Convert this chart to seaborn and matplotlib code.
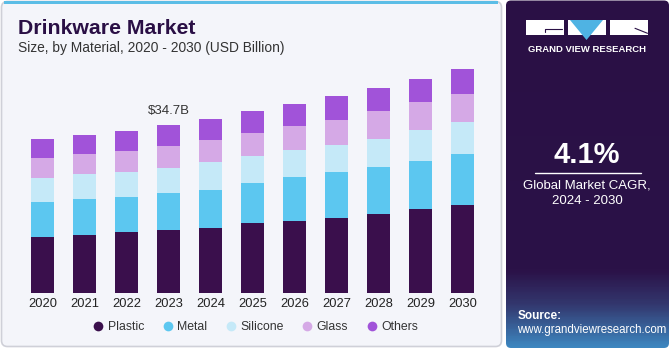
import numpy as np
import pandas as pd
import matplotlib
matplotlib.use("Agg")
import matplotlib.pyplot as plt
from matplotlib.patches import FancyBboxPatch, Rectangle, Polygon
import seaborn as sns

years = ["2020", "2021", "2022", "2023", "2024", "2025", "2026", "2027", "2028", "2029", "2030"]
plastic = [11.56, 11.81, 12.49, 12.99, 13.42, 14.34, 14.87, 15.43, 16.26, 17.30, 18.06]
metal = [7.25, 7.56, 7.29, 7.56, 7.81, 8.29, 9.05, 9.47, 9.74, 9.94, 10.63]
silicone = [4.97, 5.12, 5.24, 5.18, 5.80, 5.66, 5.59, 5.66, 5.86, 6.42, 6.57]
glass = [4.14, 4.27, 4.29, 4.68, 4.56, 4.83, 4.91, 5.18, 5.74, 5.80, 5.80]
others = [3.81, 3.87, 4.08, 4.29, 4.35, 4.56, 4.68, 4.97, 4.76, 4.76, 5.18]
series_names = ["Plastic", "Metal", "Silicone", "Glass", "Others"]
colors = ["#3a0f4c", "#5cc7f0", "#c5e9f8", "#d5a9e6", "#a153d9"]
annot_year = "2023"
annot_text = "$34.7B"

sns.set_theme(style="white")
plt.rcParams["font.family"] = ["Liberation Sans", "DejaVu Sans"]

W, H = 671, 350
fig = plt.figure(figsize=(W / 100, H / 100), dpi=100)
fig.patch.set_facecolor("white")

# background decoration axes in pixel coordinates
bg = fig.add_axes([0, 0, 1, 1])
bg.set_xlim(0, W)
bg.set_ylim(H, 0)
bg.axis("off")
bg.add_patch(FancyBboxPatch((1.5, 1.5), 500, 345, boxstyle="round,pad=0,rounding_size=6",
                            facecolor="#f4f5fa", edgecolor="#cfd0d8", linewidth=1.2))
bg.add_patch(Rectangle((4, 0.5), 494, 3, facecolor="#5bbde6", edgecolor="none"))

# right panel with gradient
grad = np.linspace(0, 1, 200)
cmap = matplotlib.colors.LinearSegmentedColormap.from_list(
    "p", [(0, "#2a1045"), (0.78, "#2b1248"), (0.88, "#33386f"), (1.0, "#3d86bf")])
img = cmap(grad)[:, None, :]
im = bg.imshow(img, extent=(506, 669, 348, 0), aspect="auto", zorder=1)
clip = FancyBboxPatch((506, 0.5), 163, 347.5, boxstyle="round,pad=0,rounding_size=5",
                      facecolor="none", edgecolor="none", transform=bg.transData)
bg.add_patch(clip)
im.set_clip_path(clip)
bg.set_xlim(0, W)
bg.set_ylim(H, 0)

# logo
bg.add_patch(Rectangle((526, 20), 38, 15, facecolor="white", edgecolor="none", zorder=3))
bg.add_patch(Rectangle((568, 20), 38, 15, facecolor="white", edgecolor="none", zorder=3))
bg.add_patch(Polygon([(570, 20), (603, 20), (586.5, 40)], closed=True, facecolor="#4fb3e3",
                     edgecolor="none", zorder=4))
bg.add_patch(Rectangle((610, 20), 38, 15, facecolor="white", edgecolor="none", zorder=3))
bg.plot([545, 545, 562], [32.3, 29, 29], color="#2a1045", lw=0.8, zorder=5)
bg.plot([635, 647.5], [28.3, 33.3], color="#2a1045", lw=0.8, zorder=5)
bg.text(587, 49.5, "GRAND VIEW RESEARCH", color="white", fontsize=6.8, fontweight="bold",
        ha="center", va="center", zorder=5)

bg.text(587, 155, "4.1%", color="white", fontsize=21, fontweight="bold",
        ha="center", va="center", zorder=5)
bg.plot([535, 641], [173, 173], color="white", lw=1.0, zorder=5)
bg.text(587, 186, "Global Market CAGR,", color="white", fontsize=9.5,
        ha="center", va="center", zorder=5)
bg.text(587, 201, "2024 - 2030", color="white", fontsize=9.5,
        ha="center", va="center", zorder=5)
bg.text(518, 316, "Source:", color="white", fontsize=8.5, fontweight="bold",
        ha="left", va="center", zorder=5)
bg.text(517, 330, "www.grandviewresearch.com", color="white", fontsize=8.3,
        ha="left", va="center", zorder=5)

# titles
bg.text(18, 29, "Drinkware Market", color="#2a0f45", fontsize=15.3, fontweight="black",
        ha="left", va="center")
bg.text(18, 48, "Size, by Material, 2020 - 2030 (USD Billion)", color="#333333", fontsize=9.9,
        ha="left", va="center")

# chart axes
base_px = 292.5
px_per_b = 4.827
ymax = 48
ax_h = ymax * px_per_b
ax = fig.add_axes([21.5 / W, (H - base_px) / H, 462 / W, ax_h / H])
ax.patch.set_alpha(0)

df = pd.DataFrame({"year": years, "Plastic": plastic, "Metal": metal, "Silicone": silicone,
                   "Glass": glass, "Others": others})
cum = df[series_names].cumsum(axis=1)
for name, col in reversed(list(zip(series_names, colors))):
    sns.barplot(x=df["year"], y=cum[name], color=col, ax=ax, width=0.548,
                saturation=1, edgecolor="none", linewidth=0)

ax.set_xlim(-0.5, 10.5)
ax.set_ylim(0, ymax)
ax.set_xlabel("")
ax.set_ylabel("")
ax.set_yticks([])
for s in ax.spines.values():
    s.set_visible(False)
ax.tick_params(axis="x", length=0, pad=4, labelsize=9.3, colors="#222222")
if ax.get_legend() is not None:
    ax.get_legend().remove()

idx = years.index(annot_year)
tot = cum["Others"].iloc[idx]
ax.text(idx, tot + 1.7, annot_text, ha="center", va="bottom", fontsize=9.5,
        color="#333333")

handles = [plt.Line2D([], [], marker="o", linestyle="", markersize=7, markerfacecolor=c,
                      markeredgecolor="none") for c in colors]
leg = fig.legend(handles, series_names, loc="center", bbox_to_anchor=(255 / W, 1 - 327 / H),
                 ncol=5, frameon=False, fontsize=8.8, handletextpad=0.25, columnspacing=1.45,
                 handlelength=1.0)
for t in leg.get_texts():
    t.set_color("#333333")

fig.savefig("out.png", dpi=100)
